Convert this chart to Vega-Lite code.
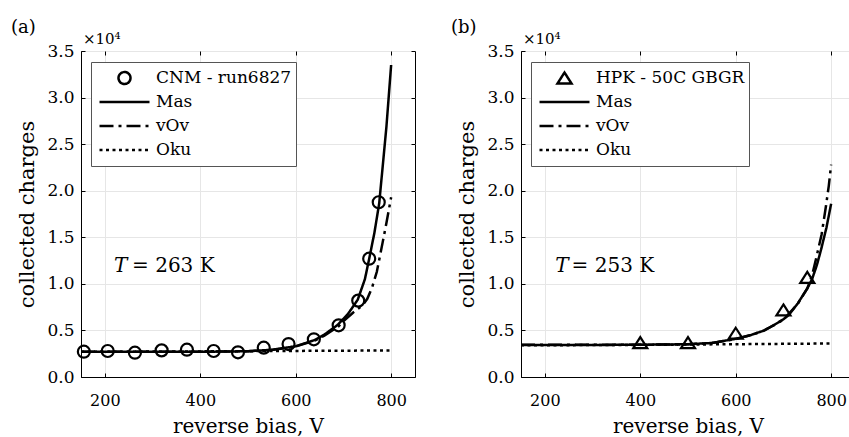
{
  "$schema": "https://vega.github.io/schema/vega-lite/v6.json",
  "padding": {"left": 10, "top": 18, "right": 0, "bottom": 0},
  "background": "white",
  "spacing": 34,
  "config": {
    "font": "DejaVu Serif",
    "view": {"stroke": "black", "strokeWidth": 1},
    "axis": {
      "labelFont": "DejaVu Serif", "titleFont": "DejaVu Serif",
      "labelColor": "black", "titleColor": "black",
      "labelFontSize": 16, "titleFontSize": 20, "titleFontWeight": "normal",
      "domainColor": "black", "tickColor": "black", "tickSize": -4,
      "gridColor": "#e6e6e6", "gridWidth": 1
    },
    "legend": {
      "orient": "none", "legendX": 10, "legendY": 11,
      "strokeColor": "#555555", "fillColor": "white", "padding": 4,
      "labelFont": "DejaVu Serif", "labelFontSize": 17, "labelColor": "black", "labelOffset": 5, "labelLimit": 400,
      "clipHeight": 24, "rowPadding": 0,
      "symbolSize": 2500, "symbolStrokeWidth": 2.5, "symbolStrokeColor": "black", "symbolFillColor": "transparent", "symbolOffset": 3
    },
    "title": {"font": "DejaVu Serif", "fontWeight": "normal", "fontSize": 18, "color": "black"}
  },
  "datasets": {
    "a_lines": [
      {"series": "Mas", "V": 150, "Q": 2700}, {"series": "Mas", "V": 200, "Q": 2700}, {"series": "Mas", "V": 250, "Q": 2700},
      {"series": "Mas", "V": 300, "Q": 2705}, {"series": "Mas", "V": 350, "Q": 2710}, {"series": "Mas", "V": 400, "Q": 2715},
      {"series": "Mas", "V": 450, "Q": 2730}, {"series": "Mas", "V": 500, "Q": 2770}, {"series": "Mas", "V": 550, "Q": 2920},
      {"series": "Mas", "V": 600, "Q": 3300}, {"series": "Mas", "V": 640, "Q": 3970}, {"series": "Mas", "V": 660, "Q": 4550},
      {"series": "Mas", "V": 688, "Q": 5600}, {"series": "Mas", "V": 710, "Q": 6800}, {"series": "Mas", "V": 730, "Q": 8300},
      {"series": "Mas", "V": 745, "Q": 10500}, {"series": "Mas", "V": 754, "Q": 12700}, {"series": "Mas", "V": 765, "Q": 15500},
      {"series": "Mas", "V": 775, "Q": 18650}, {"series": "Mas", "V": 790, "Q": 26800}, {"series": "Mas", "V": 800, "Q": 33500},
      {"series": "vOv", "V": 150, "Q": 2700}, {"series": "vOv", "V": 250, "Q": 2700}, {"series": "vOv", "V": 350, "Q": 2710},
      {"series": "vOv", "V": 450, "Q": 2730}, {"series": "vOv", "V": 500, "Q": 2770}, {"series": "vOv", "V": 550, "Q": 2910},
      {"series": "vOv", "V": 600, "Q": 3280}, {"series": "vOv", "V": 640, "Q": 3900}, {"series": "vOv", "V": 660, "Q": 4450},
      {"series": "vOv", "V": 690, "Q": 5450}, {"series": "vOv", "V": 700, "Q": 6000}, {"series": "vOv", "V": 720, "Q": 6900},
      {"series": "vOv", "V": 740, "Q": 7700}, {"series": "vOv", "V": 750, "Q": 8400}, {"series": "vOv", "V": 760, "Q": 9600},
      {"series": "vOv", "V": 770, "Q": 11300}, {"series": "vOv", "V": 782, "Q": 14400}, {"series": "vOv", "V": 790, "Q": 16500},
      {"series": "vOv", "V": 800, "Q": 19300},
      {"series": "Oku", "V": 150, "Q": 2700}, {"series": "Oku", "V": 400, "Q": 2750}, {"series": "Oku", "V": 600, "Q": 2800},
      {"series": "Oku", "V": 800, "Q": 2850}
    ],
    "a_points": [
      {"series": "CNM - run6827", "V": 156, "Q": 2720}, {"series": "CNM - run6827", "V": 206, "Q": 2790},
      {"series": "CNM - run6827", "V": 263, "Q": 2610}, {"series": "CNM - run6827", "V": 319, "Q": 2860},
      {"series": "CNM - run6827", "V": 372, "Q": 2935}, {"series": "CNM - run6827", "V": 428, "Q": 2790},
      {"series": "CNM - run6827", "V": 479, "Q": 2650}, {"series": "CNM - run6827", "V": 533, "Q": 3150},
      {"series": "CNM - run6827", "V": 585, "Q": 3540}, {"series": "CNM - run6827", "V": 638, "Q": 4045},
      {"series": "CNM - run6827", "V": 690, "Q": 5550}, {"series": "CNM - run6827", "V": 731, "Q": 8200},
      {"series": "CNM - run6827", "V": 754, "Q": 12700}, {"series": "CNM - run6827", "V": 774, "Q": 18760}
    ],
    "b_lines": [
      {"series": "Mas", "V": 150, "Q": 3430}, {"series": "Mas", "V": 300, "Q": 3440}, {"series": "Mas", "V": 400, "Q": 3460},
      {"series": "Mas", "V": 500, "Q": 3520}, {"series": "Mas", "V": 550, "Q": 3650}, {"series": "Mas", "V": 600, "Q": 4100},
      {"series": "Mas", "V": 632, "Q": 4510}, {"series": "Mas", "V": 660, "Q": 5000}, {"series": "Mas", "V": 681, "Q": 5600},
      {"series": "Mas", "V": 700, "Q": 6200}, {"series": "Mas", "V": 712, "Q": 6700}, {"series": "Mas", "V": 730, "Q": 7900},
      {"series": "Mas", "V": 750, "Q": 9500}, {"series": "Mas", "V": 760, "Q": 10500}, {"series": "Mas", "V": 770, "Q": 12000},
      {"series": "Mas", "V": 779, "Q": 13700}, {"series": "Mas", "V": 790, "Q": 16000}, {"series": "Mas", "V": 800, "Q": 18600},
      {"series": "vOv", "V": 150, "Q": 3450}, {"series": "vOv", "V": 300, "Q": 3450}, {"series": "vOv", "V": 400, "Q": 3460},
      {"series": "vOv", "V": 500, "Q": 3510}, {"series": "vOv", "V": 550, "Q": 3640}, {"series": "vOv", "V": 600, "Q": 4080},
      {"series": "vOv", "V": 632, "Q": 4500}, {"series": "vOv", "V": 660, "Q": 5000}, {"series": "vOv", "V": 700, "Q": 6150},
      {"series": "vOv", "V": 730, "Q": 7850}, {"series": "vOv", "V": 750, "Q": 9500}, {"series": "vOv", "V": 760, "Q": 10900},
      {"series": "vOv", "V": 768, "Q": 12600}, {"series": "vOv", "V": 780, "Q": 15300}, {"series": "vOv", "V": 789, "Q": 18300},
      {"series": "vOv", "V": 795, "Q": 20500}, {"series": "vOv", "V": 800, "Q": 22800},
      {"series": "Oku", "V": 150, "Q": 3400}, {"series": "Oku", "V": 400, "Q": 3450}, {"series": "Oku", "V": 600, "Q": 3520},
      {"series": "Oku", "V": 800, "Q": 3600}
    ],
    "b_points": [
      {"series": "HPK - 50C GBGR", "V": 400, "Q": 3700}, {"series": "HPK - 50C GBGR", "V": 500, "Q": 3700},
      {"series": "HPK - 50C GBGR", "V": 600, "Q": 4700}, {"series": "HPK - 50C GBGR", "V": 700, "Q": 7200},
      {"series": "HPK - 50C GBGR", "V": 750, "Q": 10700}
    ]
  },
  "hconcat": [
    {
      "width": 334, "height": 326,
      "title": {"text": "(a)", "anchor": "start", "frame": "group", "dx": -70, "offset": -5},
      "layer": [
        {
          "data": {"name": "a_lines"},
          "mark": {"type": "line", "color": "black", "strokeWidth": 2.5, "clip": true},
          "encoding": {
            "x": {"field": "V", "type": "quantitative", "scale": {"domain": [150, 850], "nice": false, "zero": false},
                  "axis": {"values": [200, 400, 600, 800], "title": "reverse bias, V", "grid": true, "labelPadding": 19, "titlePadding": 8}},
            "y": {"field": "Q", "type": "quantitative", "scale": {"domain": [0, 35000], "nice": false},
                  "axis": {"values": [0, 5000, 10000, 15000, 20000, 25000, 30000, 35000], "labelExpr": "format(datum.value / 10000, '.1f')", "title": "collected charges", "grid": true, "labelPadding": 11, "labelFontSize": 17, "titleFontSize": 21, "titlePadding": 9}},
            "strokeDash": {"field": "series", "type": "nominal",
              "scale": {"domain": ["CNM - run6827", "Mas", "vOv", "Oku"], "range": [[1, 0], [1, 0], [14, 5, 3, 5], [3, 3.5]]},
              "legend": {"title": null}
            }
          }
        },
        {
          "data": {"name": "a_points"},
          "mark": {"type": "point", "filled": false, "color": "black", "strokeWidth": 2.2, "size": 2500, "opacity": 1},
          "encoding": {
            "x": {"field": "V", "type": "quantitative", "axis": null},
            "y": {"field": "Q", "type": "quantitative", "axis": null},
            "shape": {"field": "series", "type": "nominal",
              "scale": {"domain": ["CNM - run6827", "Mas", "vOv", "Oku"], "range": ["M0.24,0A0.24,0.24,0,1,1,-0.24,0A0.24,0.24,0,1,1,0.24,0Z", "stroke", "stroke", "stroke"]},
              "legend": {"title": null}
            }
          }
        },
        {
          "data": {"values": [{"V": 219, "Q": 11300, "t": "T"}]},
          "mark": {"type": "text", "fontSize": 20, "fontStyle": "italic", "align": "left", "baseline": "alphabetic", "color": "black"},
          "encoding": {"x": {"field": "V", "type": "quantitative", "axis": null}, "y": {"field": "Q", "type": "quantitative", "axis": null}, "text": {"field": "t"}}
        },
        {
          "data": {"values": [{"V": 257, "Q": 11300, "t": "= 263 K"}]},
          "mark": {"type": "text", "fontSize": 20, "align": "left", "baseline": "alphabetic", "color": "black"},
          "encoding": {"x": {"field": "V", "type": "quantitative", "axis": null}, "y": {"field": "Q", "type": "quantitative", "axis": null}, "text": {"field": "t"}}
        },
        {
          "data": {"values": [{"V": 154, "Q": 35800, "t": "×10⁴"}]},
          "mark": {"type": "text", "fontSize": 15, "align": "left", "baseline": "alphabetic", "color": "black"},
          "encoding": {"x": {"field": "V", "type": "quantitative", "axis": null}, "y": {"field": "Q", "type": "quantitative", "axis": null}, "text": {"field": "t"}}
        },
        {
          "data": {"name": "a_lines"},
          "mark": {"type": "point", "opacity": 0},
          "encoding": {
            "x": {"field": "V", "type": "quantitative", "axis": {"orient": "top", "values": [200, 400, 600, 800], "labels": false, "title": null, "grid": false, "domain": false}},
            "y": {"field": "Q", "type": "quantitative", "axis": {"orient": "right", "values": [0, 5000, 10000, 15000, 20000, 25000, 30000, 35000], "labels": false, "title": null, "grid": false, "domain": false}}
          }
        }
      ],
      "resolve": {"axis": {"x": "independent", "y": "independent"}}
    },
    {
      "width": 334, "height": 326,
      "title": {"text": "(b)", "anchor": "start", "frame": "group", "dx": -70, "offset": -5},
      "layer": [
        {
          "data": {"name": "b_lines"},
          "mark": {"type": "line", "color": "black", "strokeWidth": 2.5, "clip": true},
          "encoding": {
            "x": {"field": "V", "type": "quantitative", "scale": {"domain": [150, 850], "nice": false, "zero": false},
                  "axis": {"values": [200, 400, 600, 800], "title": "reverse bias, V", "grid": true, "labelPadding": 19, "titlePadding": 8}},
            "y": {"field": "Q", "type": "quantitative", "scale": {"domain": [0, 35000], "nice": false},
                  "axis": {"values": [0, 5000, 10000, 15000, 20000, 25000, 30000, 35000], "labelExpr": "format(datum.value / 10000, '.1f')", "title": "collected charges", "grid": true, "labelPadding": 11, "labelFontSize": 17, "titleFontSize": 21, "titlePadding": 9}},
            "strokeDash": {"field": "series", "type": "nominal",
              "scale": {"domain": ["HPK - 50C GBGR", "Mas", "vOv", "Oku"], "range": [[1, 0], [1, 0], [14, 5, 3, 5], [3, 3.5]]},
              "legend": {"title": null}
            }
          }
        },
        {
          "data": {"name": "b_points"},
          "mark": {"type": "point", "filled": false, "color": "black", "strokeWidth": 2.2, "size": 2500, "opacity": 1},
          "encoding": {
            "x": {"field": "V", "type": "quantitative", "axis": null},
            "y": {"field": "Q", "type": "quantitative", "axis": null},
            "shape": {"field": "series", "type": "nominal",
              "scale": {"domain": ["HPK - 50C GBGR", "Mas", "vOv", "Oku"], "range": ["M0,-0.22L0.28,0.22L-0.28,0.22Z", "stroke", "stroke", "stroke"]},
              "legend": {"title": null}
            }
          }
        },
        {
          "data": {"values": [{"V": 222, "Q": 11300, "t": "T"}]},
          "mark": {"type": "text", "fontSize": 20, "fontStyle": "italic", "align": "left", "baseline": "alphabetic", "color": "black"},
          "encoding": {"x": {"field": "V", "type": "quantitative", "axis": null}, "y": {"field": "Q", "type": "quantitative", "axis": null}, "text": {"field": "t"}}
        },
        {
          "data": {"values": [{"V": 256, "Q": 11300, "t": "= 253 K"}]},
          "mark": {"type": "text", "fontSize": 20, "align": "left", "baseline": "alphabetic", "color": "black"},
          "encoding": {"x": {"field": "V", "type": "quantitative", "axis": null}, "y": {"field": "Q", "type": "quantitative", "axis": null}, "text": {"field": "t"}}
        },
        {
          "data": {"values": [{"V": 154, "Q": 35800, "t": "×10⁴"}]},
          "mark": {"type": "text", "fontSize": 15, "align": "left", "baseline": "alphabetic", "color": "black"},
          "encoding": {"x": {"field": "V", "type": "quantitative", "axis": null}, "y": {"field": "Q", "type": "quantitative", "axis": null}, "text": {"field": "t"}}
        },
        {
          "data": {"name": "b_lines"},
          "mark": {"type": "point", "opacity": 0},
          "encoding": {
            "x": {"field": "V", "type": "quantitative", "axis": {"orient": "top", "values": [200, 400, 600, 800], "labels": false, "title": null, "grid": false, "domain": false}},
            "y": {"field": "Q", "type": "quantitative", "axis": {"orient": "right", "values": [0, 5000, 10000, 15000, 20000, 25000, 30000, 35000], "labels": false, "title": null, "grid": false, "domain": false}}
          }
        }
      ],
      "resolve": {"axis": {"x": "independent", "y": "independent"}}
    }
  ],
  "resolve": {
    "scale": {"x": "independent", "y": "independent", "shape": "independent", "strokeDash": "independent"},
    "legend": {"shape": "independent", "strokeDash": "independent"}
  }
}
